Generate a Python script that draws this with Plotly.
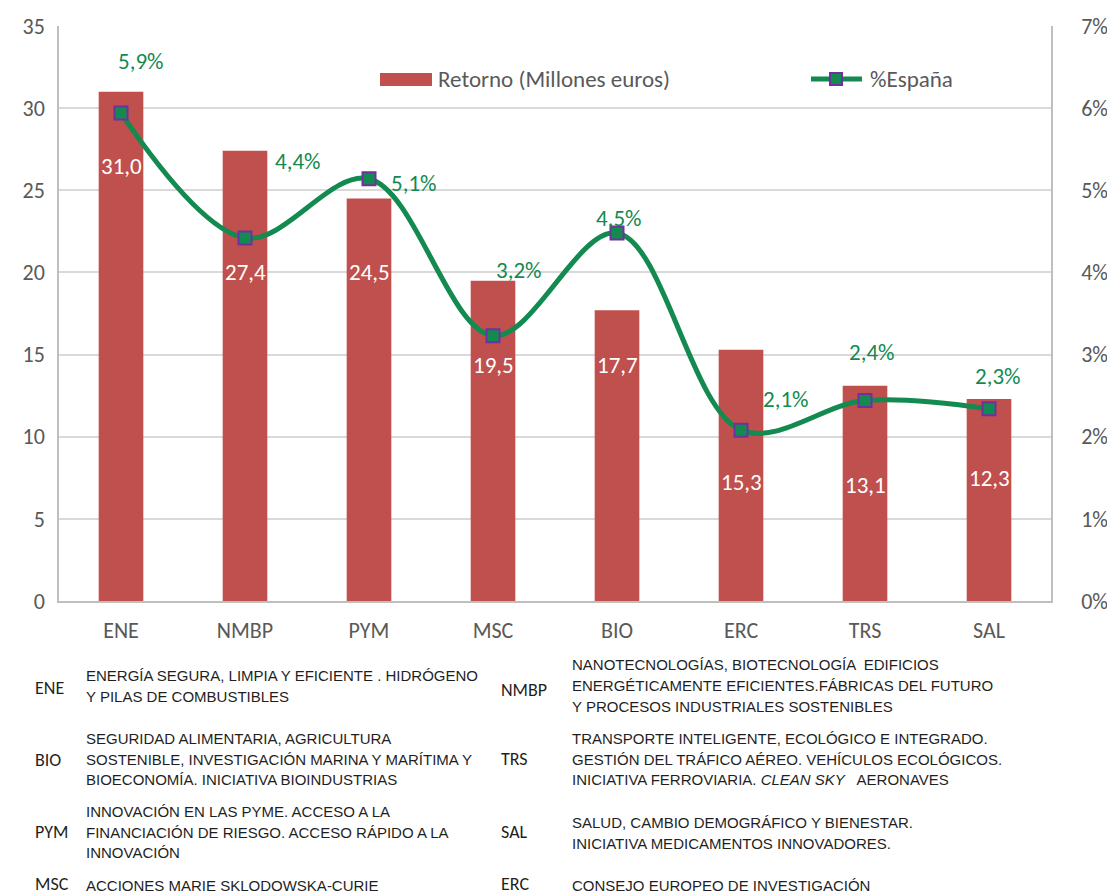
import plotly.graph_objects as go

# ---------------- data ----------------
categories = ["ENE", "NMBP", "PYM", "MSC", "BIO", "ERC", "TRS", "SAL"]
retorno = [31.0, 27.4, 24.5, 19.5, 17.7, 15.3, 13.1, 12.3]
pct_espana = [5.94, 4.42, 5.14, 3.23, 4.48, 2.08, 2.44, 2.34]

left_ticks = [0, 5, 10, 15, 20, 25, 30, 35]
right_ticks = [0, 1, 2, 3, 4, 5, 6, 7]

# bar label vertical positions (value units, left axis) chosen to avoid the line
bar_label_y = [26.5, 20.0, 20.0, 14.35, 14.35, 7.25, 7.05, 7.5]
# percent label offsets (pixels) from markers
pct_label_shift = [(20, 52), (53, 77), (45, -4), (26, 66), (2, 15), (45, 31), (7, 49), (9, 33)]

legend_names = ["Retorno (Millones euros)", "%España"]

table_left = [
    ("ENE", ["ENERGÍA SEGURA, LIMPIA Y EFICIENTE . HIDRÓGENO", "Y PILAS DE COMBUSTIBLES"]),
    ("BIO", ["SEGURIDAD ALIMENTARIA, AGRICULTURA",
             "SOSTENIBLE, INVESTIGACIÓN MARINA Y MARÍTIMA Y",
             "BIOECONOMÍA. INICIATIVA BIOINDUSTRIAS"]),
    ("PYM", ["INNOVACIÓN EN LAS PYME. ACCESO A LA",
             "FINANCIACIÓN DE RIESGO. ACCESO RÁPIDO A LA",
             "INNOVACIÓN"]),
    ("MSC", ["ACCIONES MARIE SKLODOWSKA-CURIE"]),
]
table_right = [
    ("NMBP", ["NANOTECNOLOGÍAS, BIOTECNOLOGÍA  EDIFICIOS",
              "ENERGÉTICAMENTE EFICIENTES.FÁBRICAS DEL FUTURO",
              "Y PROCESOS INDUSTRIALES SOSTENIBLES"]),
    ("TRS", ["TRANSPORTE INTELIGENTE, ECOLÓGICO E INTEGRADO.",
             "GESTIÓN DEL TRÁFICO AÉREO. VEHÍCULOS ECOLÓGICOS.",
             "INICIATIVA FERROVIARIA. <i>CLEAN SKY</i>   AERONAVES"]),
    ("SAL", ["SALUD, CAMBIO DEMOGRÁFICO Y BIENESTAR.",
             "INICIATIVA MEDICAMENTOS INNOVADORES."]),
    ("ERC", ["CONSEJO EUROPEO DE INVESTIGACIÓN"]),
]

# layout positions (pixels) for table rows
left_first_line_y = [675, 738, 811, 885]
left_code_y = [688, 760, 832, 884]
right_first_line_y = [664, 738, 822, 885]
right_code_y = [690, 759, 832, 884]

# ---------------- styling ----------------
W, H = 1107, 895
ML, MR, MT, MB = 59, 56, 26, 294
PW, PH = W - ML - MR, H - MT - MB
FONT = "Calibri, Carlito, Lato, sans-serif"
TFONT = "Liberation Sans, Arial, sans-serif"
BAR_C = "#c0504d"
GREEN = "#138a4f"
PURPLE = "#7030a0"
GRAY = "#595959"
TXT = "#1f1f1f"
LINE_STEP = 21


def px2x(px):
    return (px - ML) / PW


def px2y(py):
    return (H - MB - py) / PH


fig = go.Figure()
fig.add_trace(go.Bar(
    x=categories, y=retorno, name=legend_names[0],
    marker=dict(color=BAR_C, line=dict(width=0)), width=0.36, showlegend=False,
))
fig.add_trace(go.Scatter(
    x=categories, y=pct_espana, name=legend_names[1], yaxis="y2",
    mode="lines+markers", showlegend=False,
    line=dict(color=GREEN, width=5, shape="spline", smoothing=1.0),
    marker=dict(symbol="square", size=13, color=GREEN, line=dict(color=PURPLE, width=2)),
))

annotations = []
for c, v, ly in zip(categories, retorno, bar_label_y):
    annotations.append(dict(
        x=c, y=ly, xref="x", yref="y", text=f"{v:.1f}".replace(".", ","),
        showarrow=False, font=dict(family=FONT, size=23, color="white"),
    ))
for c, p, (dx, dy) in zip(categories, pct_espana, pct_label_shift):
    annotations.append(dict(
        x=c, y=p, xref="x", yref="y2", text=f"{p:.1f}%".replace(".", ","),
        showarrow=False, xshift=dx, yshift=dy,
        font=dict(family=FONT, size=23, color=GREEN),
    ))

# custom legend (inside plot area, top)
shapes = [
    dict(type="rect", xref="paper", yref="paper", x0=px2x(380), x1=px2x(432),
         y0=px2y(86), y1=px2y(73), fillcolor=BAR_C, line=dict(width=0)),
    dict(type="line", xref="paper", yref="paper", x0=px2x(811), x1=px2x(862),
         y0=px2y(79), y1=px2y(79), line=dict(color=GREEN, width=5)),
    dict(type="rect", xref="paper", yref="paper", x0=px2x(830), x1=px2x(842),
         y0=px2y(85), y1=px2y(73), fillcolor=GREEN, line=dict(color=PURPLE, width=2)),
]
annotations.append(dict(x=px2x(436), y=px2y(79), xref="paper", yref="paper",
                        xanchor="left", yanchor="middle", text=legend_names[0], showarrow=False,
                        font=dict(family=FONT, size=23, color=GRAY)))
annotations.append(dict(x=px2x(868), y=px2y(79), xref="paper", yref="paper",
                        xanchor="left", yanchor="middle", text=legend_names[1], showarrow=False,
                        font=dict(family=FONT, size=23, color=GRAY)))

for (code, lines), fy, cy in zip(table_left, left_first_line_y, left_code_y):
    annotations.append(dict(x=px2x(33), y=px2y(cy), xref="paper", yref="paper",
                            xanchor="left", yanchor="middle", text=code, showarrow=False,
                            font=dict(family=FONT, size=18, color=TXT)))
    for i, ln in enumerate(lines):
        annotations.append(dict(x=px2x(84), y=px2y(fy + i * LINE_STEP), xref="paper", yref="paper",
                                xanchor="left", yanchor="middle", text=ln, showarrow=False,
                                font=dict(family=TFONT, size=15, color=TXT)))
for (code, lines), fy, cy in zip(table_right, right_first_line_y, right_code_y):
    annotations.append(dict(x=px2x(499), y=px2y(cy), xref="paper", yref="paper",
                            xanchor="left", yanchor="middle", text=code, showarrow=False,
                            font=dict(family=FONT, size=18, color=TXT)))
    for i, ln in enumerate(lines):
        annotations.append(dict(x=px2x(570), y=px2y(fy + i * LINE_STEP), xref="paper", yref="paper",
                                xanchor="left", yanchor="middle", text=ln, showarrow=False,
                                font=dict(family=TFONT, size=15, color=TXT)))

fig.update_layout(
    width=W, height=H, autosize=False,
    margin=dict(l=ML, r=MR, t=MT, b=MB, pad=0, autoexpand=False),
    paper_bgcolor="white", plot_bgcolor="white",
    font=dict(family=FONT, color=GRAY),
    showlegend=False,
    xaxis=dict(
        showline=True, linecolor="#bfbfbf", linewidth=1.5, ticks="", automargin=False,
        tickfont=dict(family=FONT, size=22, color=GRAY), showgrid=False,
        range=[-0.5, len(categories) - 0.5], ticklabelstandoff=9,
    ),
    yaxis=dict(
        range=[0, 35], tickvals=left_ticks, showgrid=True, gridcolor="#d9d9d9", gridwidth=1.5,
        showline=True, linecolor="#bfbfbf", linewidth=1.5, zeroline=False, automargin=False,
        tickfont=dict(family=FONT, size=22, color=GRAY), ticks="", ticklabelstandoff=8,
    ),
    yaxis2=dict(
        range=[0, 7], tickvals=right_ticks, ticktext=[f"{t}%" for t in right_ticks],
        overlaying="y", side="right", showgrid=False, showline=True, linecolor="#bfbfbf",
        linewidth=1.5, zeroline=False, automargin=False,
        tickfont=dict(family=FONT, size=22, color=GRAY), ticks="", ticklabelstandoff=24,
    ),
    shapes=shapes,
    annotations=annotations,
)

fig.write_html("out.html", config={"displayModeBar": False},
               post_script="document.body.style.margin='0px';document.body.style.overflow='hidden';")
